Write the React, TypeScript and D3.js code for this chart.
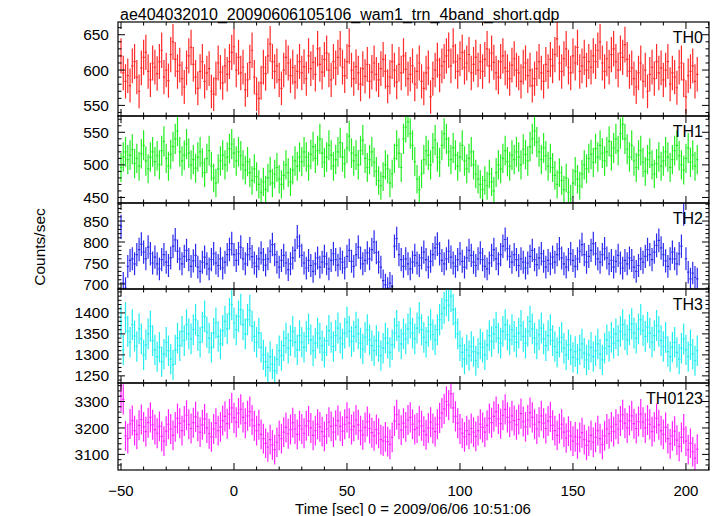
import React from "react";
import * as d3 from "d3";

const TITLE = "ae404032010_20090606105106_wam1_trn_4band_short.qdp";
const X_LABEL = "Time [sec] 0 = 2009/06/06 10:51:06";
const Y_LABEL = "Counts/sec";
const T_START = -50; // first bin centre (s)
const BIN = 1; // bin width (s)
const X_TICKS = [-50, 0, 50, 100, 150, 200];

const PANEL_NAMES = ["TH0", "TH1", "TH2", "TH3", "TH0123"];

const TH0 = [
  620, 596, 584, 592, 578, 606, 612, 590, 570, 603, 618, 625, 598, 586, 610, 604,
  595, 612, 628, 590, 600, 585, 622, 640, 615, 598, 607, 588, 576, 603, 620, 632,
  608, 590, 574, 598, 612, 584, 596, 602, 570, 566, 588, 610, 597, 582, 606, 594,
  612, 625, 633, 600, 618, 596, 604, 572, 586, 611, 628, 590, 566, 560, 582, 604,
  595, 620, 637, 612, 598, 606, 586, 574, 600, 618, 610, 592, 604, 583, 598, 612,
  596, 605, 588, 620, 602, 611, 594, 630, 608, 597, 615, 624, 600, 586, 612, 603,
  618, 630, 604, 592, 612, 634, 600, 588, 605, 596, 580, 602, 591, 608, 584, 597,
  610, 594, 586, 602, 615, 598, 577, 590, 612, 600, 583, 608, 596, 620, 601, 588,
  594, 606, 580, 598, 610, 584, 574, 596, 603, 562, 588, 600, 614, 593, 606, 612,
  620, 628, 606, 634, 612, 598, 616, 625, 604, 610, 622, 596, 608, 618, 600, 612,
  598, 615, 630, 606, 624, 611, 596, 590, 612, 620, 603, 598, 588, 607, 616, 600,
  596, 584, 604, 610, 592, 600, 578, 588, 602, 612, 596, 584, 608, 598, 615, 606,
  622, 644, 610, 598, 616, 630, 604, 596, 620, 610, 632, 598, 606, 618, 600, 612,
  604, 620, 612, 628, 640, 610, 598, 616, 604, 622, 630, 612, 600, 624, 618, 636,
  615, 598, 603, 588, 576, 596, 610, 584, 600, 570, 594, 604, 588, 612, 596, 603,
  586, 600, 612, 580, 596, 590, 575, 604, 610, 586, 562, 592, 598, 606, 584, 594,
];

const TH1 = [
  496, 512, 520, 508, 515, 524, 502, 510, 498, 517, 530, 506, 494, 512, 520, 505,
  514, 500, 522, 536, 510, 498, 516, 528, 540, 552, 520, 506, 515, 532, 518, 500,
  508, 495, 512, 520, 503, 488, 510, 522, 498, 480, 472, 494, 506, 515, 500, 512,
  525, 532, 518, 506, 520, 514, 500, 492, 505, 488, 476, 494, 482, 470, 458, 474,
  462, 480, 490, 472, 486, 496, 478, 470, 484, 500, 488, 474, 492, 506, 498, 512,
  505, 520, 512, 498, 516, 528, 510, 522, 540, 518, 504, 512, 530, 515, 498, 508,
  520, 534, 512, 502, 526, 544, 518, 506, 515, 500, 522, 538, 510, 496, 508, 520,
  504, 490, 476, 468, 482, 500, 494, 472, 486, 510, 530, 518, 496, 540, 558, 566,
  548, 530, 505, 478, 462, 486, 508, 522, 515, 500, 526, 538, 512, 504, 530, 548,
  540, 520, 508, 526, 515, 498, 512, 530, 506, 494, 510, 520, 500, 486, 478, 470,
  462, 476, 468, 486, 474, 460, 488, 500, 494, 510, 522, 505, 498, 515, 508, 520,
  512, 500, 524, 516, 506, 528, 540, 552, 535, 520, 508, 526, 514, 498, 510, 496,
  484, 470, 488, 476, 462, 480, 458, 448, 472, 490, 478, 468, 486, 500, 494, 510,
  516, 504, 525, 512, 530, 518, 506, 520, 536, 514, 526, 540, 522, 548, 562, 540,
  524, 512, 530, 506, 496, 515, 522, 504, 490, 508, 518, 500, 486, 502, 512, 498,
  506, 520, 512, 496, 508, 522, 530, 514, 500, 492, 510, 526, 504, 515, 498, 508,
];

const TH2 = [
  836, 702, 690, 742, 756, 760, 748, 770, 782, 795, 776, 760, 788, 772, 750, 764,
  748, 736, 758, 770, 752, 744, 762, 790, 805, 778, 760, 748, 766, 780, 758, 742,
  755, 768, 740, 730, 752, 764, 748, 736, 758, 772, 750, 744, 760, 738, 752, 770,
  782, 796, 770, 756, 772, 788, 760, 748, 770, 784, 765, 750, 742, 760, 774, 758,
  745, 760, 778, 794, 770, 752, 740, 756, 768, 750, 734, 748, 762, 780, 812, 790,
  768, 750, 738, 756, 744, 730, 748, 762, 740, 752, 766, 748, 736, 756, 772, 758,
  745, 760, 752, 738, 766, 780, 754, 742, 770, 788, 762, 748, 756, 774, 760, 782,
  800, 775, 752, 740, 708, 698, 690, 702, 695, 790, 808, 770, 758, 742, 760, 748,
  736, 752, 768, 750, 744, 762, 776, 758, 740, 754, 770, 786, 795, 772, 756, 748,
  760, 778, 764, 750, 742, 758, 772, 754, 740, 762, 780, 768, 752, 744, 760, 774,
  758, 742, 736, 750, 768, 782, 760, 748, 770, 790, 806, 784, 766, 752, 770, 758,
  744, 760, 752, 738, 750, 766, 780, 758, 746, 762, 772, 754, 740, 756, 748, 764,
  752, 770, 784, 762, 748, 740, 758, 772, 756, 742, 760, 778, 794, 770, 752, 766,
  780, 796, 772, 760, 752, 770, 784, 762, 748, 756, 740, 754, 768, 750, 738, 756,
  748, 762, 756, 740, 730, 744, 760, 752, 766, 782, 770, 758, 776, 792, 804, 786,
  770, 755, 742, 760, 776, 760, 748, 772, 790, 868, 760, 728, 712, 726, 716, 712,
];

const TH3 = [
  1380, 1312, 1388, 1356, 1330, 1372, 1345, 1320, 1362, 1338, 1300, 1324, 1350, 1368, 1334, 1312,
  1296, 1318, 1284, 1302, 1330, 1310, 1290, 1276, 1312, 1340, 1322, 1356, 1334, 1372, 1350, 1338,
  1360, 1384, 1346, 1330, 1366, 1392, 1354, 1340, 1318, 1352, 1376, 1344, 1326, 1358, 1380, 1362,
  1398, 1420, 1376, 1360, 1392, 1408, 1372, 1350, 1384, 1406, 1368, 1344, 1330, 1352, 1318, 1300,
  1284, 1270, 1296, 1278, 1262, 1290, 1310, 1298, 1322, 1340, 1316, 1334, 1356, 1330, 1312, 1346,
  1330, 1318, 1344, 1362, 1336, 1310, 1328, 1352, 1340, 1322, 1306, 1334, 1358, 1342, 1320, 1346,
  1364, 1340, 1326, 1352, 1378, 1356, 1332, 1344, 1366, 1350, 1328, 1314, 1342, 1360, 1336, 1322,
  1310, 1334, 1320, 1298, 1316, 1340, 1328, 1306, 1324, 1352, 1370, 1344, 1326, 1350, 1338, 1362,
  1376, 1352, 1338, 1364, 1388, 1360, 1342, 1330, 1356, 1372, 1348, 1336, 1360, 1384, 1398, 1412,
  1430, 1418, 1440, 1408, 1376, 1350, 1322, 1306, 1290, 1312, 1298, 1320, 1308, 1286, 1304, 1326,
  1318, 1300, 1324, 1346, 1332, 1350, 1366, 1340, 1328, 1356, 1372, 1348, 1336, 1360, 1344, 1330,
  1352, 1370, 1344, 1328, 1356, 1380, 1362, 1340, 1326, 1348, 1364, 1338, 1322, 1346, 1360, 1334,
  1320, 1306, 1330, 1342, 1316, 1300, 1324, 1312, 1294, 1308, 1290, 1312, 1326, 1304, 1288, 1300,
  1318, 1296, 1310, 1326, 1302, 1288, 1316, 1336, 1320, 1342, 1328, 1350, 1334, 1356, 1372, 1348,
  1336, 1360, 1374, 1352, 1340, 1362, 1384, 1358, 1344, 1366, 1352, 1330, 1346, 1370, 1356, 1334,
  1320, 1342, 1308, 1296, 1318, 1330, 1306, 1290, 1316, 1338, 1312, 1296, 1324, 1302, 1286, 1310,
];

const TH0123 = [
  3322, 3308, 3170, 3160, 3215, 3228, 3190, 3176, 3210, 3232, 3204, 3186, 3220, 3240, 3212, 3194,
  3180, 3206, 3168, 3150, 3188, 3214, 3196, 3172, 3204, 3236, 3218, 3190, 3226, 3248, 3214, 3198,
  3220, 3242, 3206, 3184, 3212, 3234, 3200, 3178, 3166, 3196, 3218, 3190, 3204, 3228, 3244, 3216,
  3252, 3276, 3238, 3222, 3256, 3270, 3240, 3218, 3246, 3262, 3230, 3208, 3190, 3212, 3176, 3160,
  3142, 3128, 3156, 3136, 3118, 3146, 3172, 3160, 3184, 3202, 3178, 3194, 3220, 3196, 3176, 3208,
  3196, 3180, 3208, 3226, 3200, 3172, 3190, 3214, 3204, 3186, 3168, 3196, 3222, 3206, 3184, 3210,
  3228, 3206, 3188, 3214, 3240, 3218, 3194, 3206, 3230, 3212, 3190, 3174, 3202, 3224, 3198, 3182,
  3170, 3194, 3180, 3156, 3150, 3166, 3148, 3138, 3164, 3226, 3250, 3214, 3192, 3218, 3204, 3230,
  3240, 3214, 3194, 3200, 3226, 3208, 3188, 3174, 3200, 3222, 3198, 3186, 3214, 3238, 3256, 3272,
  3300, 3286, 3330, 3276, 3244, 3218, 3196, 3180, 3166, 3190, 3176, 3198, 3184, 3168, 3190, 3214,
  3202, 3184, 3210, 3236, 3220, 3244, 3262, 3234, 3216, 3248, 3270, 3240, 3222, 3246, 3228, 3212,
  3232, 3254, 3224, 3204, 3230, 3258, 3240, 3214, 3196, 3222, 3246, 3218, 3198, 3226, 3242, 3210,
  3190, 3172, 3198, 3214, 3184, 3162, 3188, 3170, 3150, 3166, 3140, 3164, 3182, 3156, 3134, 3150,
  3172, 3146, 3164, 3190, 3160, 3138, 3170, 3196, 3178, 3204, 3186, 3214, 3196, 3226, 3250, 3218,
  3200, 3228, 3246, 3216, 3198, 3224, 3252, 3222, 3200, 3230, 3214, 3186, 3204, 3236, 3212, 3190,
  3176, 3202, 3160, 3140, 3170, 3188, 3154, 3130, 3164, 3196, 3150, 3118, 3142, 3110, 3086, 3120,
];

const SERIES = [TH0, TH1, TH2, TH3, TH0123];
const Y_DOMAINS: [number, number][] = [
  [535, 668],
  [441.5, 575],
  [688, 893],
  [1233, 1457],
  [3041, 3370],
];
const Y_MAJOR = [
  [550, 600, 650],
  [450, 500, 550],
  [700, 750, 800, 850],
  [1250, 1300, 1350, 1400],
  [3100, 3200, 3300],
];
const Y_MINOR_STEP = [10, 10, 10, 10, 20];
const COLORS = ["#ff2a2a", "#22ee22", "#2a2aee", "#22eeee", "#ff22ff"];

// layout
const W = 717;
const H = 516;
const LEFT = 118;
const RIGHT = 709;
const BOUNDS = [22, 116, 203, 289, 383, 470];
const FONT = "'Liberation Sans', Arial, Helvetica, sans-serif";

export default function App() {
  const x = d3.scaleLinear().domain([-51.33, 210.2]).range([LEFT, RIGHT]);
  const xMinor = d3.range(-50, 211, 10);

  return (
    <svg width={W} height={H} style={{ position: "absolute", left: 0, top: 0, background: "#fff" }}>
      <defs>
        {PANEL_NAMES.map((n, i) => (
          <clipPath id={`clip${i}`} key={n}>
            <rect x={LEFT} y={BOUNDS[i]} width={RIGHT - LEFT} height={BOUNDS[i + 1] - BOUNDS[i]} />
          </clipPath>
        ))}
      </defs>
      <text x={120} y={20} fontFamily={FONT} fontSize={16} fill="#000">
        {TITLE}
      </text>
      {PANEL_NAMES.map((name, i) => {
        const top = BOUNDS[i];
        const bot = BOUNDS[i + 1];
        const y = d3.scaleLinear().domain(Y_DOMAINS[i]).range([bot, top]);
        const data = SERIES[i];
        let p = "";
        data.forEach((v, k) => {
          const t = T_START + k * BIN;
          const e = Math.sqrt(v * BIN) / BIN; // counting error
          const xc = x(t);
          p += `M${x(t - BIN / 2)},${y(v)}H${x(t + BIN / 2)}`;
          p += `M${xc},${y(v - e)}V${y(v + e)}`;
        });
        const [d0, d1] = Y_DOMAINS[i];
        const minor = d3
          .range(Math.ceil(d0 / Y_MINOR_STEP[i]) * Y_MINOR_STEP[i], d1, Y_MINOR_STEP[i])
          .filter((v) => !Y_MAJOR[i].includes(v));
        return (
          <g key={name}>
            <path d={p} stroke={COLORS[i]} strokeWidth={1.2} fill="none" clipPath={`url(#clip${i})`} />
            <rect x={LEFT} y={top} width={RIGHT - LEFT} height={bot - top} fill="none" stroke="#000" strokeWidth={1.2} />
            {X_TICKS.map((t) => (
              <g key={"xt" + t}>
                <line x1={x(t)} x2={x(t)} y1={top} y2={top + 7} stroke="#000" strokeWidth={1} />
                <line x1={x(t)} x2={x(t)} y1={bot} y2={bot - 7} stroke="#000" strokeWidth={1} />
              </g>
            ))}
            {xMinor
              .filter((t) => !X_TICKS.includes(t))
              .map((t) => (
                <g key={"xm" + t}>
                  <line x1={x(t)} x2={x(t)} y1={top} y2={top + 3.5} stroke="#000" strokeWidth={1} />
                  <line x1={x(t)} x2={x(t)} y1={bot} y2={bot - 3.5} stroke="#000" strokeWidth={1} />
                </g>
              ))}
            {Y_MAJOR[i].map((v) => (
              <g key={"ym" + v}>
                <line x1={LEFT} x2={LEFT + 7} y1={y(v)} y2={y(v)} stroke="#000" strokeWidth={1} />
                <line x1={RIGHT} x2={RIGHT - 7} y1={y(v)} y2={y(v)} stroke="#000" strokeWidth={1} />
                <text x={LEFT - 9} y={y(v)} dy="0.36em" textAnchor="end" fontFamily={FONT} fontSize={15.5} fill="#000">
                  {v}
                </text>
              </g>
            ))}
            {minor.map((v) => (
              <g key={"yn" + v}>
                <line x1={LEFT} x2={LEFT + 3.5} y1={y(v)} y2={y(v)} stroke="#000" strokeWidth={1} />
                <line x1={RIGHT} x2={RIGHT - 3.5} y1={y(v)} y2={y(v)} stroke="#000" strokeWidth={1} />
              </g>
            ))}
            <text x={703} y={top + 21} textAnchor="end" fontFamily={FONT} fontSize={16} fill="#000">
              {name}
            </text>
          </g>
        );
      })}
      {X_TICKS.map((t) => (
        <text key={"xl" + t} x={x(t)} y={496} textAnchor="middle" fontFamily={FONT} fontSize={15} fill="#000">
          {t < 0 ? "\u2212" + Math.abs(t) : t}
        </text>
      ))}
      <text x={413} y={514} textAnchor="middle" fontFamily={FONT} fontSize={15} fill="#000">
        {X_LABEL}
      </text>
      <text
        transform={`translate(45,247) rotate(-90)`}
        textAnchor="middle"
        fontFamily={FONT}
        fontSize={15.5}
        fill="#000"
      >
        {Y_LABEL}
      </text>
    </svg>
  );
}
